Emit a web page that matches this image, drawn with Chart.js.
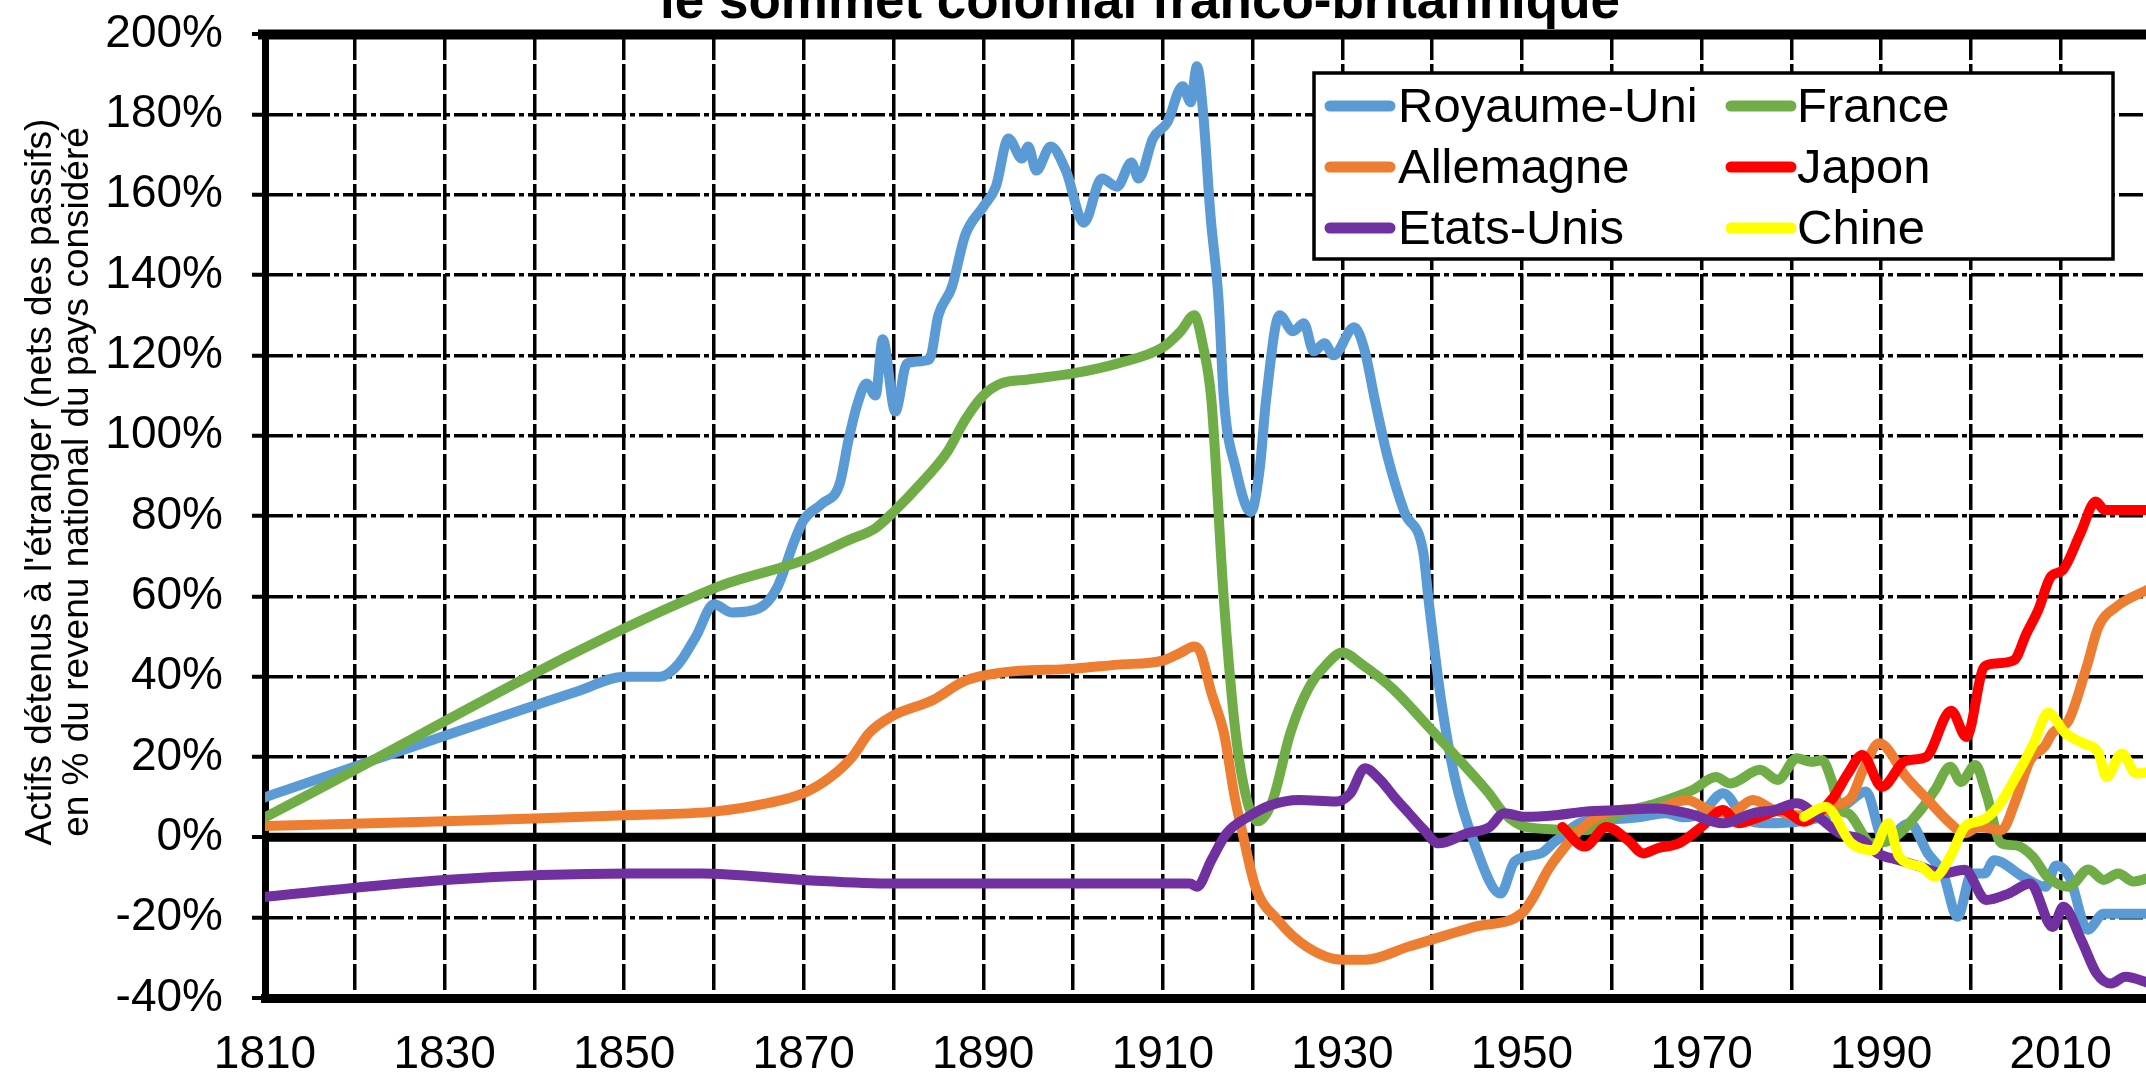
<!DOCTYPE html>
<html lang="fr">
<head>
<meta charset="utf-8">
<title>Actifs étrangers</title>
<script src="https://cdn.jsdelivr.net/npm/chart.js@4.4.1/dist/chart.umd.min.js"></script>
<style>
  html, body { margin: 0; padding: 0; background: #fff; overflow: hidden; }
  canvas { display: block; }
</style>
</head>
<body>
<canvas id="grafico" width="2146" height="1078"></canvas>
<script>
const fuente = "'Liberation Sans', Arial, sans-serif";

const titreTexte = 'le sommet colonial franco-britannique';
const titreAxeY = ["Actifs détenus à l'étranger (nets des passifs)", 'en % du revenu national du pays considéré'];

// Royaume-Uni
const anneesRU = [1810, 1845, 1850, 1854, 1856, 1858, 1860, 1862, 1865, 1867, 1869, 1870, 1872, 1874, 1875, 1876, 1877, 1878, 1878.8, 1880.2, 1881.5, 1884, 1885, 1886.5, 1888, 1890, 1891.4, 1892.8, 1894.3, 1895, 1895.9, 1897.5, 1899.2, 1901.2, 1903.2, 1904.9, 1906.5, 1907.3, 1908.9, 1910.5, 1912.2, 1913.1, 1913.8, 1914.5, 1915.3, 1916.2, 1916.8, 1918.1, 1919.8, 1920.8, 1921.5, 1923, 1924.5, 1925.7, 1926.8, 1928, 1929, 1931.3, 1932.5, 1933.6, 1935, 1936.9, 1939, 1939.6, 1941, 1942.5, 1944.7, 1947.6, 1949.2, 1952.1, 1953.7, 1957, 1960, 1963, 1966, 1968, 1970, 1972.4, 1975, 1977.3, 1981, 1984.7, 1986.3, 1988.3, 1990.3, 1993.2, 1995.2, 1996.9, 1998.5, 2000.1, 2001.5, 2002.6, 2005.8, 2008.3, 2009.5, 2011, 2013, 2014.8, 2020];
const valeursRU = [10, 36.5, 40, 40, 43, 50, 58, 56, 57, 62, 74, 79, 83, 88, 99, 108, 113, 110, 124, 106, 118, 119, 130, 137, 150, 157, 162, 174, 169, 172, 166, 172, 166, 153, 164, 162, 168, 164, 174, 178, 187, 183, 192, 180, 155, 134, 109, 92, 81, 92, 109, 130, 126, 128, 121, 123, 120, 127, 121, 109, 95, 81, 71, 59, 34, 15, -1.5, -14, -6, -4, -1, 4, 4.5, 5, 6, 5, 6, 11, 4.3, 3.5, 4, 6, 8.5, 11.4, -0.7, 3.5, -4, -9, -19.8, -9, -9, -5.7, -9.8, -12.3, -7, -10, -23, -19, -19];

// France
const anneesFR = [1810, 1860, 1870, 1875, 1878, 1880, 1883, 1886, 1888, 1890, 1892, 1895, 1900, 1905, 1910, 1912, 1913.5, 1914.5, 1915.4, 1916.8, 1918.1, 1919.4, 1920.6, 1922.2, 1924.2, 1926.2, 1928.2, 1930, 1932.2, 1935.6, 1939.6, 1943.7, 1946.3, 1948, 1950.4, 1957, 1961, 1965, 1969, 1971.6, 1973.2, 1976.5, 1978.5, 1980.6, 1982.2, 1983.4, 1984.6, 1985.4, 1986.3, 1989, 1991, 1994.4, 1996, 1997.7, 1998.9, 2000.5, 2001.7, 2003.4, 2005, 2006.9, 2008.5, 2010.9, 2013.1, 2014.8, 2016.4, 2018.1, 2020];
const valeursFR = [5, 62, 69, 74, 77, 81, 88, 96, 104, 110, 113, 114, 115.5, 118, 122, 126, 130, 122, 109, 59, 26, 9, 4, 9, 26, 37, 43, 46, 43, 37, 27.5, 17.6, 11, 6, 2.6, 1.8, 6, 8.5, 11.8, 15, 13.4, 16.8, 14.3, 19.7, 18.8, 19.2, 13.4, 6.8, 6, -1.5, -0.7, 6.8, 11.8, 17.6, 13.8, 18, 11, -1.5, -2, -4.8, -9.8, -12.3, -8, -10.6, -9, -11, -10];

// Allemagne
const anneesDE = [1810, 1830, 1840, 1850, 1860, 1866, 1870, 1873, 1875.4, 1877.3, 1879.7, 1884.4, 1888, 1892, 1900, 1905, 1910, 1912, 1913.5, 1914.2, 1915.4, 1916.8, 1918, 1918.8, 1920.3, 1922.8, 1926, 1930, 1932.5, 1937.4, 1944.7, 1950, 1951.3, 1952.9, 1954.5, 1956.1, 1957.8, 1961, 1965, 1968.4, 1970.8, 1973.2, 1975.7, 1978.1, 1980.6, 1983, 1985, 1986.7, 1988, 1989.8, 1992.8, 1995.2, 1997.7, 1999.3, 2000.9, 2003.4, 2005, 2006.6, 2008.2, 2009.1, 2010.9, 2012.9, 2014.2, 2016.2, 2020];
const valeursDE = [2.8, 4, 4.7, 5.5, 6.4, 8.5, 11, 15, 20, 26, 30, 34.2, 39, 41, 42, 43, 44, 46, 47.5, 46, 36, 26, 10, 1.8, -12.3, -20.6, -27.2, -30.5, -30.5, -27.2, -22.3, -18.9, -14.8, -8.1, -3.2, 1, 4.3, 6.8, 7.2, 9.3, 6.8, 6, 9.3, 6.8, 5.5, 6, 8, 10, 16.8, 23.4, 15, 9.3, 3.5, 1, 2.6, 1.8, 9.3, 19.2, 22.6, 26, 29.2, 42.5, 52.4, 57.4, 62];

// Japon
const anneesJP = [1954.5, 1957, 1959.4, 1961.8, 1963.5, 1965.1, 1967.5, 1970, 1972.4, 1974.1, 1976.5, 1979, 1981.4, 1983, 1984.7, 1986.3, 1987.9, 1990.1, 1992.7, 1995, 1997.8, 1999.5, 2001.5, 2002.8, 2004.8, 2006.2, 2007.5, 2008.9, 2010.2, 2012.2, 2013.9, 2014.9, 2020];
const valeursJP = [2.6, -2.3, 2.6, -0.7, -4, -2.7, -1.5, 2.6, 6.8, 3.5, 5.1, 6.8, 3.9, 6, 10, 15.9, 20.5, 12.6, 19, 20, 31.5, 25, 42.5, 43.3, 44.1, 50.8, 56.6, 64.9, 66.5, 75.7, 83.6, 81.5, 81.5];

// Etats-Unis
const anneesUS = [1810, 1830, 1850.8, 1858.6, 1870, 1880, 1913, 1913.8, 1915.4, 1917.1, 1919.5, 1922, 1925.2, 1929.3, 1930.9, 1932.5, 1934.2, 1935.8, 1937.4, 1939.1, 1940.7, 1943.9, 1946.4, 1948, 1950.4, 1953.7, 1957, 1961, 1965, 1968.4, 1972.4, 1975.7, 1978.1, 1980.6, 1983, 1985.4, 1987.9, 1989.6, 1992, 1994.4, 1996.9, 1999.3, 2001.7, 2004.2, 2006.6, 2009.1, 2010.3, 2012.3, 2014, 2015.6, 2017.2, 2020];
const valeursUS = [-14.8, -10.6, -9, -9, -10.6, -11.5, -11.5, -12.3, -5.7, 1, 5.1, 8, 9.3, 8.9, 11, 17.2, 14.3, 10, 6, 1.8, -1.5, 1, 2.6, 6, 5.1, 5.5, 6.4, 6.8, 7.2, 6, 3.5, 6, 6.8, 8.5, 5.1, 1, -0.7, -4, -5.7, -7.3, -9, -8.1, -15.6, -14, -11.5, -22.3, -17.3, -25.6, -33.9, -36.4, -34.7, -36.4];

// Chine
const anneesCN = [1981.4, 1983.8, 1986.7, 1989.1, 1990.8, 1992, 1994.4, 1996, 1997.7, 1999.3, 2001.3, 2003, 2005, 2007, 2008.6, 2010.5, 2012.5, 2014.2, 2015.1, 2016.8, 2018.4, 2020];
const valeursCN = [5.1, 7.6, -1.5, -3.2, 3.5, -4.8, -7.3, -9.8, -4.8, 2.6, 4.3, 7.6, 15, 23.4, 31, 26, 23.4, 21, 15, 20.9, 15.9, 16.3];

const ticksX = [1810, 1830, 1850, 1870, 1890, 1910, 1930, 1950, 1970, 1990, 2010];

// zone de tracé imposée (pixels du canevas)
const zone = { left: 265, top: 34, right: 2146, bottom: 998 };

function puntos(xs, ys) {
  return xs.map((x, i) => ({ x: x, y: ys[i] }));
}

function serie(nombre, xs, ys, color, orden) {
  return {
    label: nombre,
    data: puntos(xs, ys),
    borderColor: color,
    backgroundColor: color,
    order: orden
  };
}

function placer(boite, left, top, right, bottom) {
  boite.left = left;
  boite.top = top;
  boite.right = right;
  boite.bottom = bottom;
  boite.width = right - left;
  boite.height = bottom - top;
}

// fixe la zone de tracé et les axes après le calcul de mise en page
const miseEnPage = {
  id: 'miseEnPage',
  afterLayout(chart) {
    const { x, y } = chart.scales;
    chart.chartArea = {
      left: zone.left, top: zone.top, right: zone.right, bottom: zone.bottom,
      width: zone.right - zone.left, height: zone.bottom - zone.top
    };
    placer(y, 0, zone.top, zone.left, zone.bottom);
    placer(x, zone.left, zone.bottom, zone.right, chart.height);
    y.configure();
    x.configure();
  }
};

const cadre = {
  id: 'cadre',
  beforeDatasetsDraw(chart) {
    const { ctx, chartArea, scales } = chart;
    const y0 = scales.y.getPixelForValue(0);
    ctx.save();
    ctx.strokeStyle = '#000';
    ctx.lineWidth = 9;
    ctx.beginPath();
    ctx.moveTo(chartArea.left, y0);
    ctx.lineTo(chartArea.right, y0);
    ctx.stroke();
    ctx.lineWidth = 10;
    ctx.beginPath();
    ctx.moveTo(chartArea.left - 7, chartArea.top + 0.5);
    ctx.lineTo(chartArea.right, chartArea.top + 0.5);
    ctx.stroke();
    ctx.restore();
  }
};

const textes = {
  id: 'textes',
  afterDraw(chart) {
    const ctx = chart.ctx;
    ctx.save();
    ctx.fillStyle = '#000';
    ctx.font = 'bold 53px ' + fuente;
    ctx.textAlign = 'center';
    ctx.textBaseline = 'alphabetic';
    ctx.fillText(titreTexte, 1140, 18);

    ctx.font = '37px ' + fuente;
    ctx.textBaseline = 'middle';
    titreAxeY.forEach((ligne, i) => {
      ctx.save();
      ctx.translate(41 + i * 37, 482);
      ctx.rotate(-Math.PI / 2);
      ctx.fillText(ligne, 0, 0);
      ctx.restore();
    });
    ctx.restore();
  }
};

const legende = {
  id: 'legende',
  afterDraw(chart) {
    const ctx = chart.ctx;
    const colX = [1330, 1731];
    const texteX = [1398, 1797];
    const ligneY = [106, 167, 228];
    ctx.save();
    ctx.fillStyle = '#fff';
    ctx.fillRect(1314, 73, 799, 186);
    ctx.strokeStyle = '#000';
    ctx.lineWidth = 3.5;
    ctx.strokeRect(1314, 73, 799, 186);
    ctx.font = '49px ' + fuente;
    ctx.textBaseline = 'middle';
    ctx.textAlign = 'left';
    chart.data.datasets.forEach((ds, i) => {
      const c = i % 2;
      const f = Math.floor(i / 2);
      ctx.strokeStyle = ds.borderColor;
      ctx.lineWidth = 11;
      ctx.lineCap = 'round';
      ctx.beginPath();
      ctx.moveTo(colX[c], ligneY[f]);
      ctx.lineTo(colX[c] + 60, ligneY[f]);
      ctx.stroke();
      ctx.fillStyle = '#000';
      ctx.fillText(ds.label, texteX[c], ligneY[f] + 2);
    });
    ctx.restore();
  }
};

const ctx = document.getElementById('grafico').getContext('2d');
new Chart(ctx, {
  type: 'line',
  data: {
    datasets: [
      serie('Royaume-Uni', anneesRU, valeursRU, '#5B9BD5', 6),
      serie('France', anneesFR, valeursFR, '#70AD47', 5),
      serie('Allemagne', anneesDE, valeursDE, '#ED7D31', 4),
      serie('Japon', anneesJP, valeursJP, '#FF0000', 3),
      serie('Etats-Unis', anneesUS, valeursUS, '#7030A0', 2),
      serie('Chine', anneesCN, valeursCN, '#FFFF00', 1)
    ]
  },
  options: {
    responsive: false,
    animation: false,
    devicePixelRatio: 1,
    layout: { padding: 0 },
    plugins: {
      legend: { display: false },
      tooltip: { enabled: false },
      title: { display: false }
    },
    elements: {
      point: { radius: 0 },
      line: { borderWidth: 10, cubicInterpolationMode: 'monotone', borderCapStyle: 'round', borderJoinStyle: 'round' }
    },
    scales: {
      x: {
        type: 'linear',
        min: 1810,
        max: 2019.5,
        ticks: {
          stepSize: 10,
          includeBounds: false,
          autoSkip: false,
          maxRotation: 0,
          padding: 34,
          color: '#000',
          font: { family: fuente, size: 46, lineHeight: 1 },
          callback: v => (ticksX.includes(v) ? String(v) : '')
        },
        grid: {
          color: '#000',
          lineWidth: c => (c.tick && c.tick.value === 1810 ? 0 : 3.5),
          drawTicks: false
        },
        border: { display: true, color: '#000', width: 9, dash: [26, 4] }
      },
      y: {
        min: -40,
        max: 200,
        afterFit: s => { s.width = 265; },
        ticks: {
          stepSize: 20,
          padding: 29,
          color: '#000',
          font: { family: fuente, size: 46, lineHeight: 1 },
          callback: v => v + '%'
        },
        grid: {
          color: '#000',
          lineWidth: c => (c.tick && [0, 200, -40].includes(c.tick.value) ? 0 : 3.5),
          tickLength: 13,
          tickWidth: 4,
          tickColor: '#000',
          tickBorderDash: []
        },
        border: { display: true, color: '#000', width: 7, dash: [24, 4, 5, 4] }
      }
    }
  },
  plugins: [miseEnPage, cadre, textes, legende]
});
</script>
</body>
</html>
